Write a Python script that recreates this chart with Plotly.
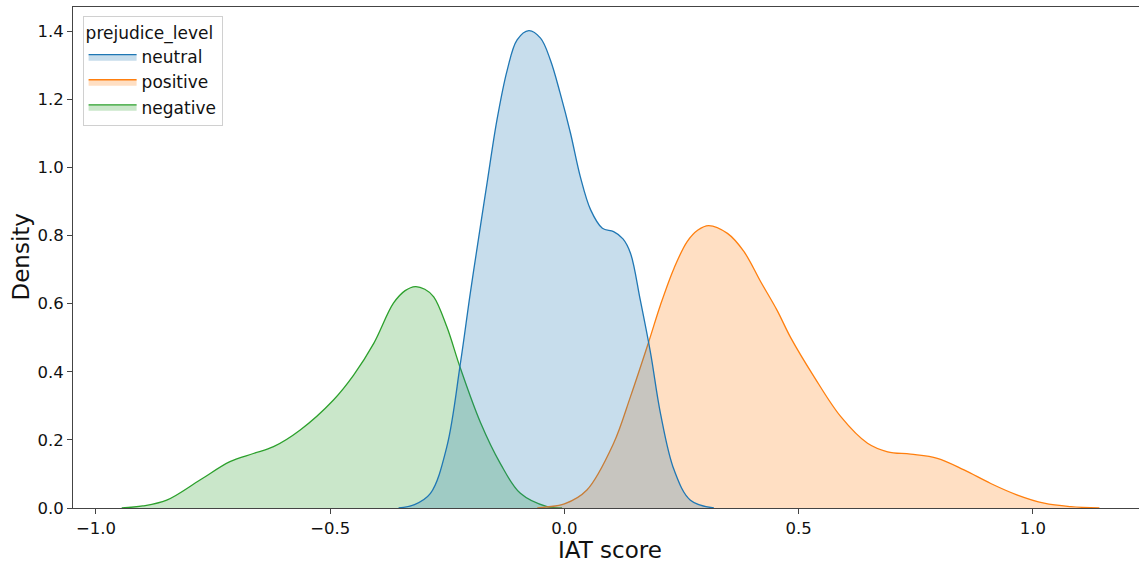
import plotly.graph_objects as go

# Neutral
neutral_x = [-0.354, -0.32, -0.286, -0.251, -0.222, -0.201, -0.179, -0.165, -0.144, -0.122, -0.101,
             -0.076, -0.051, -0.030, -0.009, 0.013, 0.034, 0.056, 0.081, 0.105, 0.125, 0.141, 0.162,
             0.184, 0.205, 0.234, 0.269, 0.319]
neutral_y = [0.0, 0.01, 0.043, 0.18, 0.425, 0.63, 0.83, 0.955, 1.139, 1.286, 1.374,
             1.401, 1.379, 1.315, 1.217, 1.100, 0.972, 0.875, 0.821, 0.811, 0.79, 0.748, 0.61,
             0.454, 0.278, 0.112, 0.023, 0.0]

# Positive
positive_x = [-0.058, -0.037, 0.0, 0.048, 0.105, 0.141, 0.180, 0.205, 0.234, 0.262, 0.285, 0.308,
              0.348, 0.383, 0.419, 0.454, 0.483, 0.533, 0.590, 0.647, 0.690, 0.739, 0.796, 0.853,
              0.910, 0.967, 1.024, 1.081, 1.142]
positive_y = [0.0, 0.003, 0.012, 0.053, 0.19, 0.327, 0.488, 0.596, 0.704, 0.782, 0.816, 0.829,
              0.806, 0.753, 0.664, 0.58, 0.50, 0.385, 0.268, 0.19, 0.165, 0.158, 0.146, 0.112,
              0.072, 0.038, 0.014, 0.004, 0.0]

# Negative
negative_x = [-0.945, -0.9, -0.849, -0.778, -0.714, -0.664, -0.621, -0.564, -0.493, -0.450, -0.407,
              -0.365, -0.340, -0.318, -0.298, -0.279, -0.251, -0.222, -0.179, -0.137, -0.094,
              -0.037, -0.005]
negative_y = [0.0, 0.006, 0.023, 0.082, 0.136, 0.160, 0.180, 0.229, 0.317, 0.39, 0.483,
              0.601, 0.638, 0.650, 0.642, 0.620, 0.532, 0.41, 0.25, 0.131, 0.043,
              0.004, 0.0]

x_ticks = [-1.0, -0.5, 0.0, 0.5, 1.0]
x_tick_labels = ["\u22121.0", "\u22120.5", "0.0", "0.5", "1.0"]
y_ticks = [0.0, 0.2, 0.4, 0.6, 0.8, 1.0, 1.2, 1.4]
y_tick_labels = ["0.0", "0.2", "0.4", "0.6", "0.8", "1.0", "1.2", "1.4"]

# drawn in reverse hue order (first level on top), legend shown in hue order
series = [
    ("negative", negative_x, negative_y, "#2ca02c", "rgba(44,160,44,0.25)"),
    ("positive", positive_x, positive_y, "#ff7f0e", "rgba(255,127,14,0.25)"),
    ("neutral", neutral_x, neutral_y, "#1f77b4", "rgba(31,119,180,0.25)"),
]

fig = go.Figure()
for name, xs, ys, lc, fc in series:
    fig.add_trace(go.Scatter(
        x=xs, y=ys, name=name, mode="lines",
        line=dict(color=lc, width=1.3, shape="spline", smoothing=1.0),
        fill="tozeroy", fillcolor=fc,
    ))

axis_font = dict(family="DejaVu Sans", size=16.5, color="#111")
title_font = dict(size=23, family="DejaVu Sans", color="#111")
fig.update_layout(
    width=1139, height=563,
    margin=dict(l=73, r=0, t=7, b=55),
    paper_bgcolor="white", plot_bgcolor="white",
    font=dict(family="DejaVu Sans", size=16, color="#111"),
    showlegend=True,
    legend=dict(
        title=dict(text="prejudice_level", font=dict(size=17, family="DejaVu Sans")),
        font=dict(size=17, family="DejaVu Sans"),
        x=0.009, y=0.982, xanchor="left", yanchor="top",
        bordercolor="#d0d0d0", borderwidth=1, bgcolor="rgba(255,255,255,0.8)",
        traceorder="reversed", itemwidth=48,
    ),
    xaxis=dict(
        range=[-1.049, 1.2265],
        tickvals=x_ticks, ticktext=x_tick_labels,
        showgrid=False, zeroline=False,
        showline=True, linecolor="#444", linewidth=1, mirror=True,
        ticks="outside", ticklen=5, tickcolor="#444",
        tickfont=axis_font,
    ),
    yaxis=dict(
        range=[0, 1.4705],
        tickvals=y_ticks, ticktext=y_tick_labels,
        showgrid=False, zeroline=False,
        showline=True, linecolor="#444", linewidth=1, mirror=False,
        ticks="outside", ticklen=5, tickcolor="#444",
        tickfont=axis_font,
    ),
    annotations=[
        dict(text="IAT score", xref="paper", yref="paper", x=0.5038, y=0,
             xanchor="center", yanchor="middle", yshift=-42, showarrow=False,
             font=title_font),
        dict(text="Density", xref="paper", yref="paper", x=-0.0497, y=0.5,
             xanchor="center", yanchor="middle", textangle=-90, showarrow=False,
             font=title_font),
    ],
)

fig.write_html("out.html")
